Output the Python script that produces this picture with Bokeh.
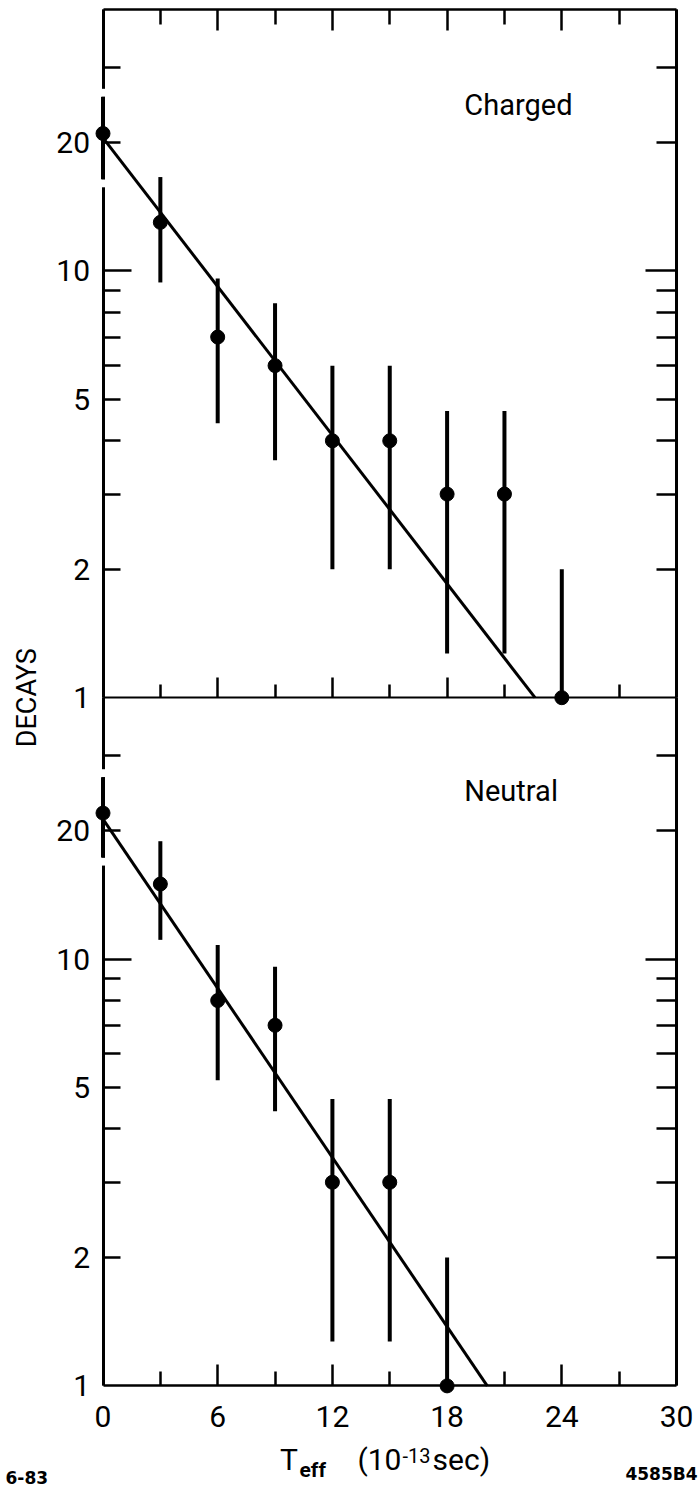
import math
from bokeh.plotting import figure
from bokeh.models import (Range1d, LogScale, LogAxis, LinearAxis, FixedTicker,
                          BasicTickFormatter, CustomJSTickFormatter, Label)
from bokeh.embed import file_html
from bokeh.resources import INLINE

# ---------------- data ----------------
t_charged = [0, 3, 6, 9, 12, 15, 18, 21, 24]
n_charged = [21, 13, 7, 6, 4, 4, 3, 3, 1]
hi_charged = [25.6, 16.6, 9.6, 8.4, 6.0, 6.0, 4.7, 4.7, 2.0]
lo_charged = [16.4, 9.4, 4.4, 3.6, 2.0, 2.0, 1.27, 1.27, 1.0]
fit_charged_t = [0, 22.6]
fit_charged_n = [20.5, 1.0]

t_neutral = [0, 3, 6, 9, 12, 15, 18]
n_neutral = [22, 15, 8, 7, 3, 3, 1]
hi_neutral = [26.7, 18.9, 10.8, 9.6, 4.7, 4.7, 2.0]
lo_neutral = [17.3, 11.1, 5.2, 4.4, 1.27, 1.27, 1.0]
fit_neutral_t = [0, 20.1]
fit_neutral_n = [21.3, 1.0]

x_ticks = [0, 6, 12, 18, 24, 30]
x_minor = [3, 9, 15, 21, 27]
y_labels = [1, 2, 5, 10, 20]
y_long = [10]
y_minor = [2, 3, 4, 5, 6, 7, 8, 9, 20, 30]

# ---------------- layout constants ----------------
FONT = "Roboto"
TICK_FS = "30px"
YMIN, YTOP = 1.0, 41.0          # value range of each panel
XMIN, XMAX = 0.0, 30.0
W, H = 700, 1490                # canvas = frame (everything drawn inside it)
PAD_L, PAD_R = 102.5, 24.0      # px outside the x data range
PAD_T, PAD_B = 9.0, 104.6       # px above the upper panel / below the lower panel
GAP = 1.044

px_per_x = (W - PAD_L - PAD_R) / (XMAX - XMIN)
px_per_dec = (H - PAD_T - PAD_B) / (2 * math.log10(YTOP / YMIN))
y_lo = YMIN * 10 ** (-PAD_B / px_per_dec)
y_hi = (YTOP * YTOP / YMIN) * 10 ** (PAD_T / px_per_dec)

p = figure(frame_width=W, frame_height=H,
           min_border_left=0, min_border_right=0, min_border_top=0, min_border_bottom=0,
           x_range=Range1d(XMIN - PAD_L / px_per_x, XMAX + PAD_R / px_per_x),
           y_range=Range1d(y_lo, y_hi),
           y_axis_type="log", x_axis_location=None, y_axis_location=None,
           output_backend="svg", toolbar_location=None)
p.extra_y_ranges = {"top": Range1d(y_lo / (YTOP / YMIN), y_hi / (YTOP / YMIN))}
p.extra_y_scales = {"top": LogScale()}
p.outline_line_color = None
p.grid.visible = False
p.background_fill_color = "white"
p.border_fill_color = "white"


def blank():
    return CustomJSTickFormatter(code="return ''")


# ---------------- y axes ----------------
for rname in ("default", "top"):
    for side, loc, long_in, short_in in (("left", XMIN, 28, 17), ("right", XMAX, 31, 20)):
        ax = LogAxis(y_range_name=rname, fixed_location=loc, bounds=(YMIN, YTOP),
                     ticker=FixedTicker(ticks=y_long, minor_ticks=y_minor),
                     formatter=blank(),
                     major_tick_in=long_in, major_tick_out=0,
                     minor_tick_in=short_in, minor_tick_out=0,
                     major_tick_line_width=2.5, minor_tick_line_width=2.5,
                     axis_line_width=3)
        p.add_layout(ax, side)
    lab = LogAxis(y_range_name=rname, fixed_location=XMIN,
                  ticker=FixedTicker(ticks=y_labels, minor_ticks=[]),
                  formatter=BasicTickFormatter(),
                  major_tick_in=0, major_tick_out=0, minor_tick_in=0, minor_tick_out=0,
                  axis_line_color=None, major_tick_line_color=None, minor_tick_line_color=None,
                  major_label_standoff=13, major_label_text_font=FONT,
                  major_label_text_font_size=TICK_FS, major_label_text_color="black")
    p.add_layout(lab, "left")


# ---------------- x axes ----------------
def xaxis(loc, maj_in, min_in, width, labels):
    ax = LinearAxis(fixed_location=loc, bounds=(XMIN, XMAX),
                    ticker=FixedTicker(ticks=x_ticks, minor_ticks=x_minor),
                    major_tick_in=maj_in, major_tick_out=0,
                    minor_tick_in=min_in, minor_tick_out=0,
                    major_tick_line_width=2.5, minor_tick_line_width=2.5,
                    axis_line_width=width)
    if labels:
        ax.major_label_text_font = FONT
        ax.major_label_text_font_size = TICK_FS
        ax.major_label_text_color = "black"
        ax.major_label_standoff = 20
    else:
        ax.formatter = blank()
    return ax


p.add_layout(xaxis(YTOP * YTOP / YMIN, 21, 15, 2.5, False), "above")
p.add_layout(xaxis(YTOP, 20, 13, 2, False), "below")
p.add_layout(xaxis(YMIN, 21, 14, 2.5, True), "below")


# ---------------- data marks ----------------
def panel(t, n, hi, lo, ft, fn, rname):
    kw = {"y_range_name": rname}
    r = p.segment(x0=[t[0], t[0]], y0=[hi[0], lo[0] / GAP],
                  x1=[t[0], t[0]], y1=[hi[0] * GAP, lo[0]],
                  line_color="white", line_width=7, **kw)
    r.level = "overlay"
    r = p.segment(x0=t, y0=lo, x1=t, y1=hi, line_color="black", line_width=4, **kw)
    r.level = "overlay"
    r = p.line(ft, fn, line_color="black", line_width=3, **kw)
    r.level = "overlay"
    r = p.scatter(t, n, size=14, color="black", **kw)
    r.level = "overlay"


panel(t_charged, n_charged, hi_charged, lo_charged, fit_charged_t, fit_charged_n, "top")
panel(t_neutral, n_neutral, hi_neutral, lo_neutral, fit_neutral_t, fit_neutral_n, "default")

# ---------------- texts ----------------
p.add_layout(Label(x=18.9, y=22.3, y_range_name="top", text="Charged",
                   text_font=FONT, text_font_size="29px", text_color="black"))
p.add_layout(Label(x=18.9, y=22.6, text="Neutral",
                   text_font=FONT, text_font_size="29px", text_color="black"))
p.add_layout(Label(x=-3.95, y=YTOP, text="DECAYS", angle=math.pi / 2,
                   text_align="center", text_baseline="middle",
                   text_font=FONT, text_font_size="27px", text_color="black"))

TITLE_Y, SUB_Y, SUP_Y = 0.613, 0.594, 0.661
for x, y, txt, size, style in ((9.26, TITLE_Y, "T", "30px", "normal"),
                               (10.28, SUB_Y, "eff", "21px", "bold"),
                               (13.31, TITLE_Y, "(10", "30px", "normal"),
                               (15.67, SUP_Y, "-13", "20px", "normal"),
                               (17.24, TITLE_Y, "sec)", "30px", "normal")):
    p.add_layout(Label(x=x, y=y, text=txt, text_font=FONT, text_font_size=size,
                       text_font_style=style, text_color="black"))

p.add_layout(Label(x=-5.1, y=0.59, text="6-83", text_font="DejaVu Sans",
                   text_font_size="17px", text_font_style="bold", text_color="black"))
p.add_layout(Label(x=31.1, y=0.59, text="4585B4", text_align="right", text_font="DejaVu Sans",
                   text_font_size="17px", text_font_style="bold", text_color="black"))

open("out.html", "w").write(file_html(p, INLINE))
